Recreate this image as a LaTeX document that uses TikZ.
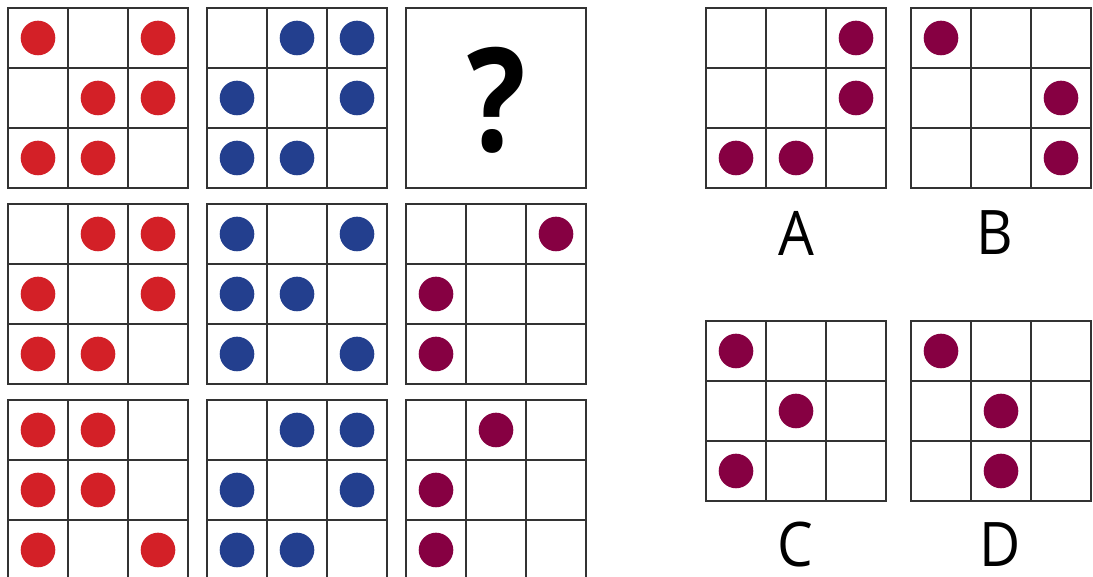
\documentclass[tikz,border=0pt]{standalone}
\usepackage{fontspec}
\setmainfont{Open Sans}
\usepackage{tikz}
\usetikzlibrary{positioning}
\definecolor{dotred}{RGB}{211,32,39}
\definecolor{dotblue}{RGB}{35,63,142}
\definecolor{dotplum}{RGB}{134,0,66}
\definecolor{gridgray}{RGB}{51,51,51}
\tikzset{
  cellline/.style={draw=gridgray, line width=1.1pt},
  reddot/.style={fill=dotred},
  bluedot/.style={fill=dotblue},
  plumdot/.style={fill=dotplum},
  letter/.style={font=\fontsize{35}{38}\selectfont, inner sep=0pt, xscale=0.92}
}

\begin{document}
\begin{tikzpicture}[x=0.02cm, y=-0.02cm]
\useasboundingbox (0,0) rectangle (1093,577);
%--- 3x3 cell panels ---
\foreach \gx/\gy in {8/8,207/8,8/204,207/204,406/204,8/400,207/400,406/400,706/8,911/8,706/321,911/321} {
  \draw[cellline] (\gx,\gy) rectangle ++(180,180);
  \foreach \i in {60,120} {
    \draw[cellline] (\gx+\i,\gy) -- (\gx+\i,\gy+180);
    \draw[cellline] (\gx,\gy+\i) -- (\gx+180,\gy+\i);
  }
}
% missing panel
\draw[cellline] (406,8) rectangle (586,188);
\node[inner sep=0pt, xscale=0.85, font=\fontsize{82}{88}\selectfont\bfseries] (qmark) at (497,100) {?};

%--- row 1 ---
\foreach \c/\r in {0/0,2/0,1/1,2/1,0/2,1/2} { \fill[reddot] (38+60*\c,38+60*\r) circle (17.3); }
\foreach \c/\r in {1/0,2/0,0/1,2/1,0/2,1/2} { \fill[bluedot] (237+60*\c,38+60*\r) circle (17.3); }
%--- row 2 ---
\foreach \c/\r in {1/0,2/0,0/1,2/1,0/2,1/2} { \fill[reddot] (38+60*\c,234+60*\r) circle (17.3); }
\foreach \c/\r in {0/0,2/0,0/1,1/1,0/2,2/2} { \fill[bluedot] (237+60*\c,234+60*\r) circle (17.3); }
\foreach \c/\r in {2/0,0/1,0/2} { \fill[plumdot] (436+60*\c,234+60*\r) circle (17.3); }
%--- row 3 ---
\foreach \c/\r in {0/0,1/0,0/1,1/1,0/2,2/2} { \fill[reddot] (38+60*\c,430+60*\r) circle (17.3); }
\foreach \c/\r in {1/0,2/0,0/1,2/1,0/2,1/2} { \fill[bluedot] (237+60*\c,430+60*\r) circle (17.3); }
\foreach \c/\r in {1/0,0/1,0/2} { \fill[plumdot] (436+60*\c,430+60*\r) circle (17.3); }

%--- answer options ---
\foreach \c/\r in {2/0,2/1,0/2,1/2} { \fill[plumdot] (736+60*\c,38+60*\r) circle (17.3); }
\foreach \c/\r in {0/0,2/1,2/2} { \fill[plumdot] (941+60*\c,38+60*\r) circle (17.3); }
\foreach \c/\r in {0/0,1/1,0/2} { \fill[plumdot] (736+60*\c,351+60*\r) circle (17.3); }
\foreach \c/\r in {0/0,1/1,1/2} { \fill[plumdot] (941+60*\c,351+60*\r) circle (17.3); }
\node[letter] (labA) at (796,233) {A};
\node[letter] (labB) at (995,233) {B};
\node[letter] (labC) at (795,545) {C};
\node[letter] (labD) at (1000,545) {D};
\end{tikzpicture}
\end{document}
